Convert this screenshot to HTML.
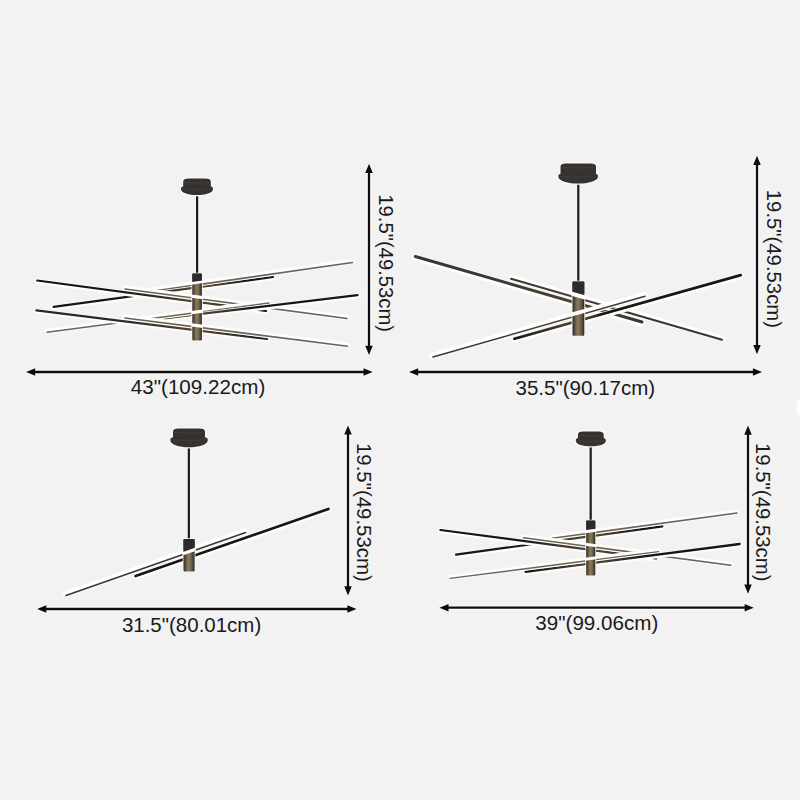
<!DOCTYPE html>
<html><head><meta charset="utf-8"><title>Chandelier dimensions</title>
<style>
html,body{margin:0;padding:0;background:#f2f2f2;}
body{width:800px;height:800px;overflow:hidden;}
svg{display:block;}
text{font-family:"Liberation Sans","DejaVu Sans",sans-serif;fill:#1a1a1a;}
</style></head>
<body>
<svg width="800" height="800" viewBox="0 0 800 800">
<defs>
<linearGradient id="brass" x1="0" y1="0" x2="1" y2="0">
<stop offset="0" stop-color="#2e2a24"/>
<stop offset="0.22" stop-color="#625742"/>
<stop offset="0.45" stop-color="#8c7c5b"/>
<stop offset="0.7" stop-color="#6e6149"/>
<stop offset="1" stop-color="#2c2823"/>
</linearGradient>
<linearGradient id="g0" gradientUnits="userSpaceOnUse" x1="37.2" y1="0" x2="266" y2="0"><stop offset="0.000" stop-color="#161616"/><stop offset="0.371" stop-color="#161616"/><stop offset="0.646" stop-color="#4a3f31"/><stop offset="0.751" stop-color="#4a3f31"/><stop offset="0.939" stop-color="#161616"/><stop offset="1.000" stop-color="#161616"/></linearGradient>
<linearGradient id="g1" gradientUnits="userSpaceOnUse" x1="53.6" y1="0" x2="273" y2="0"><stop offset="0.000" stop-color="#161616"/><stop offset="0.312" stop-color="#161616"/><stop offset="0.599" stop-color="#4a3f31"/><stop offset="0.709" stop-color="#4a3f31"/><stop offset="0.905" stop-color="#161616"/><stop offset="1.000" stop-color="#161616"/></linearGradient>
<linearGradient id="g2" gradientUnits="userSpaceOnUse" x1="36.3" y1="0" x2="267" y2="0"><stop offset="0.000" stop-color="#2a2826"/><stop offset="0.372" stop-color="#2a2826"/><stop offset="0.645" stop-color="#4a3f31"/><stop offset="0.749" stop-color="#4a3f31"/><stop offset="0.935" stop-color="#2a2826"/><stop offset="1.000" stop-color="#2a2826"/></linearGradient>
<linearGradient id="g3" gradientUnits="userSpaceOnUse" x1="125" y1="0" x2="347" y2="0"><stop offset="0.000" stop-color="#68645e"/><stop offset="0.000" stop-color="#68645e"/><stop offset="0.271" stop-color="#6e6250"/><stop offset="0.379" stop-color="#6e6250"/><stop offset="0.573" stop-color="#68645e"/><stop offset="1.000" stop-color="#68645e"/></linearGradient>
<linearGradient id="g4" gradientUnits="userSpaceOnUse" x1="125" y1="0" x2="347.5" y2="0"><stop offset="0.000" stop-color="#68645e"/><stop offset="0.000" stop-color="#68645e"/><stop offset="0.270" stop-color="#6e6250"/><stop offset="0.378" stop-color="#6e6250"/><stop offset="0.571" stop-color="#68645e"/><stop offset="1.000" stop-color="#68645e"/></linearGradient>
<linearGradient id="g5" gradientUnits="userSpaceOnUse" x1="150" y1="0" x2="352.5" y2="0"><stop offset="0.000" stop-color="#68645e"/><stop offset="0.000" stop-color="#68645e"/><stop offset="0.173" stop-color="#6e6250"/><stop offset="0.292" stop-color="#6e6250"/><stop offset="0.504" stop-color="#68645e"/><stop offset="1.000" stop-color="#68645e"/></linearGradient>
<linearGradient id="g6" gradientUnits="userSpaceOnUse" x1="150" y1="0" x2="357.5" y2="0"><stop offset="0.000" stop-color="#161616"/><stop offset="0.000" stop-color="#161616"/><stop offset="0.169" stop-color="#4a3f31"/><stop offset="0.285" stop-color="#4a3f31"/><stop offset="0.492" stop-color="#161616"/><stop offset="1.000" stop-color="#161616"/></linearGradient>
<linearGradient id="g7" gradientUnits="userSpaceOnUse" x1="47.1" y1="0" x2="269" y2="0"><stop offset="0.000" stop-color="#68645e"/><stop offset="0.338" stop-color="#68645e"/><stop offset="0.622" stop-color="#6e6250"/><stop offset="0.730" stop-color="#6e6250"/><stop offset="0.924" stop-color="#68645e"/><stop offset="1.000" stop-color="#68645e"/></linearGradient>
<linearGradient id="g8" gradientUnits="userSpaceOnUse" x1="415.3" y1="0" x2="642" y2="0"><stop offset="0.000" stop-color="#3a3733"/><stop offset="0.388" stop-color="#3a3733"/><stop offset="0.666" stop-color="#4a3f31"/><stop offset="0.772" stop-color="#4a3f31"/><stop offset="0.962" stop-color="#3a3733"/><stop offset="1.000" stop-color="#3a3733"/></linearGradient>
<linearGradient id="g9" gradientUnits="userSpaceOnUse" x1="511" y1="0" x2="722" y2="0"><stop offset="0.000" stop-color="#3a3733"/><stop offset="0.000" stop-color="#3a3733"/><stop offset="0.262" stop-color="#4a3f31"/><stop offset="0.376" stop-color="#4a3f31"/><stop offset="0.580" stop-color="#3a3733"/><stop offset="1.000" stop-color="#3a3733"/></linearGradient>
<linearGradient id="g10" gradientUnits="userSpaceOnUse" x1="514.5" y1="0" x2="740.7" y2="0"><stop offset="0.000" stop-color="#161616"/><stop offset="0.000" stop-color="#161616"/><stop offset="0.229" stop-color="#4a3f31"/><stop offset="0.335" stop-color="#4a3f31"/><stop offset="0.379" stop-color="#161616"/><stop offset="1.000" stop-color="#161616"/></linearGradient>
<linearGradient id="g11" gradientUnits="userSpaceOnUse" x1="433" y1="0" x2="645" y2="0"><stop offset="0.000" stop-color="#3a3733"/><stop offset="0.332" stop-color="#3a3733"/><stop offset="0.629" stop-color="#4a3f31"/><stop offset="0.742" stop-color="#4a3f31"/><stop offset="0.945" stop-color="#3a3733"/><stop offset="1.000" stop-color="#3a3733"/></linearGradient>
<linearGradient id="g12" gradientUnits="userSpaceOnUse" x1="440.4" y1="0" x2="656" y2="0"><stop offset="0.000" stop-color="#161616"/><stop offset="0.349" stop-color="#161616"/><stop offset="0.641" stop-color="#4a3f31"/><stop offset="0.753" stop-color="#4a3f31"/><stop offset="0.952" stop-color="#161616"/><stop offset="1.000" stop-color="#161616"/></linearGradient>
<linearGradient id="g13" gradientUnits="userSpaceOnUse" x1="456" y1="0" x2="662.3" y2="0"><stop offset="0.000" stop-color="#161616"/><stop offset="0.289" stop-color="#161616"/><stop offset="0.595" stop-color="#4a3f31"/><stop offset="0.711" stop-color="#4a3f31"/><stop offset="0.920" stop-color="#161616"/><stop offset="1.000" stop-color="#161616"/></linearGradient>
<linearGradient id="g14" gradientUnits="userSpaceOnUse" x1="523.5" y1="0" x2="730.8" y2="0"><stop offset="0.000" stop-color="#68645e"/><stop offset="0.000" stop-color="#68645e"/><stop offset="0.266" stop-color="#6e6250"/><stop offset="0.382" stop-color="#6e6250"/><stop offset="0.589" stop-color="#68645e"/><stop offset="1.000" stop-color="#68645e"/></linearGradient>
<linearGradient id="g15" gradientUnits="userSpaceOnUse" x1="552.2" y1="0" x2="737" y2="0"><stop offset="0.000" stop-color="#68645e"/><stop offset="0.000" stop-color="#68645e"/><stop offset="0.143" stop-color="#6e6250"/><stop offset="0.273" stop-color="#6e6250"/><stop offset="0.506" stop-color="#68645e"/><stop offset="1.000" stop-color="#68645e"/></linearGradient>
<linearGradient id="g16" gradientUnits="userSpaceOnUse" x1="525.6" y1="0" x2="739.7" y2="0"><stop offset="0.000" stop-color="#161616"/><stop offset="0.000" stop-color="#161616"/><stop offset="0.248" stop-color="#4a3f31"/><stop offset="0.360" stop-color="#4a3f31"/><stop offset="0.561" stop-color="#161616"/><stop offset="1.000" stop-color="#161616"/></linearGradient>
<linearGradient id="g17" gradientUnits="userSpaceOnUse" x1="450" y1="0" x2="658.6" y2="0"><stop offset="0.000" stop-color="#68645e"/><stop offset="0.315" stop-color="#68645e"/><stop offset="0.617" stop-color="#6e6250"/><stop offset="0.732" stop-color="#6e6250"/><stop offset="0.938" stop-color="#68645e"/><stop offset="1.000" stop-color="#68645e"/></linearGradient>
<clipPath id="c1L"><rect x="0" y="0" width="197" height="800"/></clipPath>
<clipPath id="c1R"><rect x="197" y="0" width="603" height="800"/></clipPath>
<clipPath id="c4L"><rect x="0" y="0" width="590.7" height="800"/></clipPath>
<clipPath id="c4R"><rect x="590.7" y="0" width="209.3" height="800"/></clipPath>
</defs>
<rect width="800" height="800" fill="#f2f2f2"/>
<rect x="195.20" y="190" width="3.8000000000000003" height="84" fill="#fafafa" opacity="0.7"/><rect x="196.00" y="190" width="2.2" height="84" fill="#1c1b1a"/>
<path d="M183.2,181.7 Q183.2,178.5 188.32,178.5 L205.68,178.5 Q210.8,178.5 210.8,181.7 L210.8,186.3 C212.6,186.9 213,187.5 213,188.9 C213,197.03 181,197.03 181,188.9 C181,187.5 181.4,186.9 183.2,186.3 Z" fill="none" stroke="#fbfbfb" stroke-width="2.6"/><path d="M183.2,181.7 Q183.2,178.5 188.32,178.5 L205.68,178.5 Q210.8,178.5 210.8,181.7 L210.8,186.3 C212.6,186.9 213,187.5 213,188.9 C213,197.03 181,197.03 181,188.9 C181,187.5 181.4,186.9 183.2,186.3 Z" fill="#353230"/><path d="M184.0,182.29999999999998 Q197.0,183.89999999999998 210.0,182.29999999999998" fill="none" stroke="#4a4643" stroke-width="0.8" opacity="0.7"/><path d="M182,188.7 Q197.0,190.9 212,188.7" fill="none" stroke="#4a4643" stroke-width="0.8" opacity="0.6"/>
<g clip-path="url(#c1L)"><line x1="149.86" y1="290.53" x2="352.36" y2="261.53" stroke="#fafafa" stroke-width="5.9" stroke-linecap="round"/><line x1="149.72" y1="289.57" x2="352.22" y2="260.57" stroke="#fffefa" stroke-width="2.6" stroke-linecap="round"/><line x1="150.00" y1="291.50" x2="352.50" y2="262.50" stroke="url(#g5)" stroke-width="1.7" stroke-linecap="round"/><line x1="150.10" y1="320.87" x2="357.60" y2="296.07" stroke="#fafafa" stroke-width="5.5" stroke-linecap="round"/><line x1="150.21" y1="321.74" x2="357.71" y2="296.94" stroke="#fffefa" stroke-width="1.6" stroke-linecap="round"/><line x1="150.00" y1="320.00" x2="357.50" y2="295.20" stroke="url(#g6)" stroke-width="2.3" stroke-linecap="round"/><line x1="53.71" y1="307.64" x2="273.11" y2="277.84" stroke="#fafafa" stroke-width="5.4" stroke-linecap="round"/><line x1="53.83" y1="308.48" x2="273.23" y2="278.68" stroke="#fffefa" stroke-width="1.6" stroke-linecap="round"/><line x1="53.60" y1="306.80" x2="273.00" y2="277.00" stroke="url(#g1)" stroke-width="2.2" stroke-linecap="round"/><line x1="46.98" y1="331.38" x2="268.88" y2="302.08" stroke="#fafafa" stroke-width="5.699999999999999" stroke-linecap="round"/><line x1="46.86" y1="330.47" x2="268.76" y2="301.17" stroke="#fffefa" stroke-width="2.6" stroke-linecap="round"/><line x1="47.10" y1="332.30" x2="269.00" y2="303.00" stroke="url(#g7)" stroke-width="1.5" stroke-linecap="round"/><line x1="125.12" y1="288.11" x2="347.12" y2="317.61" stroke="#fafafa" stroke-width="5.6" stroke-linecap="round"/><line x1="125.24" y1="287.22" x2="347.24" y2="316.72" stroke="#fffefa" stroke-width="2.4" stroke-linecap="round"/><line x1="125.00" y1="289.00" x2="347.00" y2="318.50" stroke="url(#g3)" stroke-width="1.6" stroke-linecap="round"/><line x1="125.11" y1="317.11" x2="347.61" y2="345.36" stroke="#fafafa" stroke-width="5.6" stroke-linecap="round"/><line x1="125.23" y1="316.21" x2="347.73" y2="344.46" stroke="#fffefa" stroke-width="2.4" stroke-linecap="round"/><line x1="125.00" y1="318.00" x2="347.50" y2="346.25" stroke="url(#g4)" stroke-width="1.6" stroke-linecap="round"/><line x1="37.09" y1="281.34" x2="265.89" y2="311.84" stroke="#fafafa" stroke-width="5.4" stroke-linecap="round"/><line x1="36.98" y1="282.19" x2="265.78" y2="312.69" stroke="#fffefa" stroke-width="1.6" stroke-linecap="round"/><line x1="37.20" y1="280.50" x2="266.00" y2="311.00" stroke="url(#g0)" stroke-width="2.2" stroke-linecap="round"/><line x1="36.20" y1="311.22" x2="266.90" y2="339.82" stroke="#fafafa" stroke-width="5.300000000000001" stroke-linecap="round"/><line x1="36.10" y1="312.04" x2="266.80" y2="340.64" stroke="#fffefa" stroke-width="1.6" stroke-linecap="round"/><line x1="36.30" y1="310.40" x2="267.00" y2="339.00" stroke="url(#g2)" stroke-width="2.1" stroke-linecap="round"/></g>
<g clip-path="url(#c1R)"><line x1="37.09" y1="281.34" x2="265.89" y2="311.84" stroke="#fafafa" stroke-width="5.4" stroke-linecap="round"/><line x1="36.98" y1="282.19" x2="265.78" y2="312.69" stroke="#fffefa" stroke-width="1.6" stroke-linecap="round"/><line x1="37.20" y1="280.50" x2="266.00" y2="311.00" stroke="url(#g0)" stroke-width="2.2" stroke-linecap="round"/><line x1="36.20" y1="311.22" x2="266.90" y2="339.82" stroke="#fafafa" stroke-width="5.300000000000001" stroke-linecap="round"/><line x1="36.10" y1="312.04" x2="266.80" y2="340.64" stroke="#fffefa" stroke-width="1.6" stroke-linecap="round"/><line x1="36.30" y1="310.40" x2="267.00" y2="339.00" stroke="url(#g2)" stroke-width="2.1" stroke-linecap="round"/><line x1="125.12" y1="288.11" x2="347.12" y2="317.61" stroke="#fafafa" stroke-width="5.6" stroke-linecap="round"/><line x1="125.24" y1="287.22" x2="347.24" y2="316.72" stroke="#fffefa" stroke-width="2.4" stroke-linecap="round"/><line x1="125.00" y1="289.00" x2="347.00" y2="318.50" stroke="url(#g3)" stroke-width="1.6" stroke-linecap="round"/><line x1="125.11" y1="317.11" x2="347.61" y2="345.36" stroke="#fafafa" stroke-width="5.6" stroke-linecap="round"/><line x1="125.23" y1="316.21" x2="347.73" y2="344.46" stroke="#fffefa" stroke-width="2.4" stroke-linecap="round"/><line x1="125.00" y1="318.00" x2="347.50" y2="346.25" stroke="url(#g4)" stroke-width="1.6" stroke-linecap="round"/><line x1="53.71" y1="307.64" x2="273.11" y2="277.84" stroke="#fafafa" stroke-width="5.4" stroke-linecap="round"/><line x1="53.83" y1="308.48" x2="273.23" y2="278.68" stroke="#fffefa" stroke-width="1.6" stroke-linecap="round"/><line x1="53.60" y1="306.80" x2="273.00" y2="277.00" stroke="url(#g1)" stroke-width="2.2" stroke-linecap="round"/><line x1="149.86" y1="290.53" x2="352.36" y2="261.53" stroke="#fafafa" stroke-width="5.9" stroke-linecap="round"/><line x1="149.72" y1="289.57" x2="352.22" y2="260.57" stroke="#fffefa" stroke-width="2.6" stroke-linecap="round"/><line x1="150.00" y1="291.50" x2="352.50" y2="262.50" stroke="url(#g5)" stroke-width="1.7" stroke-linecap="round"/><line x1="46.98" y1="331.38" x2="268.88" y2="302.08" stroke="#fafafa" stroke-width="5.699999999999999" stroke-linecap="round"/><line x1="46.86" y1="330.47" x2="268.76" y2="301.17" stroke="#fffefa" stroke-width="2.6" stroke-linecap="round"/><line x1="47.10" y1="332.30" x2="269.00" y2="303.00" stroke="url(#g7)" stroke-width="1.5" stroke-linecap="round"/><line x1="150.10" y1="320.87" x2="357.60" y2="296.07" stroke="#fafafa" stroke-width="5.5" stroke-linecap="round"/><line x1="150.21" y1="321.74" x2="357.71" y2="296.94" stroke="#fffefa" stroke-width="1.6" stroke-linecap="round"/><line x1="150.00" y1="320.00" x2="357.50" y2="295.20" stroke="url(#g6)" stroke-width="2.3" stroke-linecap="round"/></g>
<rect x="191.50" y="272.7" width="11.20" height="68.70" fill="#fafafa" rx="1.5"/><rect x="192.3" y="273.5" width="9.60" height="67.10" fill="url(#brass)" rx="1"/>
<rect x="192.3" y="273.5" width="9.60" height="7.70" fill="#2c2b29" rx="1"/>
<path d="M191.30,282.23 L202.90,280.57 L202.90,282.97 L191.30,284.63 Z" fill="#ffffff"/>
<path d="M191.30,294.43 L202.90,295.97 L202.90,299.17 L191.30,297.63 Z" fill="#ffffff"/>
<path d="M191.30,310.95 L202.90,309.45 L202.90,312.65 L191.30,314.15 Z" fill="#ffffff"/>
<path d="M191.30,323.36 L202.90,324.84 L202.90,328.04 L191.30,326.56 Z" fill="#ffffff"/>
<line x1="28" y1="372" x2="370.7" y2="372" stroke="#fdfdfd" stroke-width="4.5"/><path d="M24.8,372 L36.0,367.2 L36.0,376.8 Z" fill="#fdfdfd"/><path d="M373.9,372 L362.7,367.2 L362.7,376.8 Z" fill="#fdfdfd"/><line x1="34.2" y1="372" x2="364.5" y2="372" stroke="#0d0d0d" stroke-width="2.3"/><path d="M26,372 L35.2,368.2 L35.2,375.8 Z" fill="#0d0d0d"/><path d="M372.7,372 L363.5,368.2 L363.5,375.8 Z" fill="#0d0d0d"/>
<line x1="369" y1="165.75" x2="369" y2="352.9" stroke="#fdfdfd" stroke-width="4.5"/><path d="M369,162.55 L364.2,173.75 L373.8,173.75 Z" fill="#fdfdfd"/><path d="M369,356.09999999999997 L364.2,344.9 L373.8,344.9 Z" fill="#fdfdfd"/><line x1="369" y1="171.95" x2="369" y2="346.7" stroke="#0d0d0d" stroke-width="2.3"/><path d="M369,163.75 L365.2,172.95 L372.8,172.95 Z" fill="#0d0d0d"/><path d="M369,354.9 L365.2,345.7 L372.8,345.7 Z" fill="#0d0d0d"/>
<text x="130.80" y="394.40" font-size="20" textLength="134.50" lengthAdjust="spacingAndGlyphs">43"(109.22cm)</text>
<text transform="translate(378.50,194.30) rotate(90)" font-size="20" textLength="137.70" lengthAdjust="spacingAndGlyphs">19.5"(49.53cm)</text>
<rect x="576.40" y="180" width="3.8000000000000003" height="102" fill="#fafafa" opacity="0.7"/><rect x="577.20" y="180" width="2.2" height="102" fill="#1c1b1a"/>
<path d="M560.5,166.7 Q560.5,163.5 565.62,163.5 L590.88,163.5 Q596,163.5 596,166.7 L596,173.8 C597.6,174.4 598,175 598,176.4 C598,185.87 558.3,185.87 558.3,176.4 C558.3,175 558.6999999999999,174.4 560.5,173.8 Z" fill="none" stroke="#fbfbfb" stroke-width="2.6"/><path d="M560.5,166.7 Q560.5,163.5 565.62,163.5 L590.88,163.5 Q596,163.5 596,166.7 L596,173.8 C597.6,174.4 598,175 598,176.4 C598,185.87 558.3,185.87 558.3,176.4 C558.3,175 558.6999999999999,174.4 560.5,173.8 Z" fill="#353230"/><path d="M561.3,167.29999999999998 Q578.15,168.89999999999998 595.2,167.29999999999998" fill="none" stroke="#4a4643" stroke-width="0.8" opacity="0.7"/><path d="M559.3,176.2 Q578.15,178.4 597,176.2" fill="none" stroke="#4a4643" stroke-width="0.8" opacity="0.6"/>
<line x1="414.96" y1="257.68" x2="641.66" y2="323.18" stroke="#fafafa" stroke-width="6.9" stroke-linecap="round"/><line x1="414.62" y1="258.85" x2="641.32" y2="324.35" stroke="#fffefa" stroke-width="2.4" stroke-linecap="round"/><line x1="415.30" y1="256.50" x2="642.00" y2="322.00" stroke="url(#g8)" stroke-width="2.9" stroke-linecap="round"/>
<line x1="511.31" y1="277.69" x2="722.31" y2="338.74" stroke="#fafafa" stroke-width="6.4" stroke-linecap="round"/><line x1="511.61" y1="276.64" x2="722.61" y2="337.69" stroke="#fffefa" stroke-width="2.8" stroke-linecap="round"/><line x1="511.00" y1="278.75" x2="722.00" y2="339.80" stroke="url(#g9)" stroke-width="2.0" stroke-linecap="round"/>
<line x1="514.78" y1="339.76" x2="740.98" y2="276.21" stroke="#fafafa" stroke-width="6.199999999999999" stroke-linecap="round"/><line x1="515.07" y1="340.77" x2="741.27" y2="277.22" stroke="#fffefa" stroke-width="1.8" stroke-linecap="round"/><line x1="514.50" y1="338.75" x2="740.70" y2="275.20" stroke="url(#g10)" stroke-width="2.8" stroke-linecap="round"/>
<line x1="432.68" y1="355.87" x2="644.68" y2="295.07" stroke="#fafafa" stroke-width="6.699999999999999" stroke-linecap="round"/><line x1="432.35" y1="354.74" x2="644.35" y2="293.94" stroke="#fffefa" stroke-width="3.6" stroke-linecap="round"/><line x1="433.00" y1="357.00" x2="645.00" y2="296.20" stroke="url(#g11)" stroke-width="1.5" stroke-linecap="round"/>
<rect x="571.70" y="280.7" width="13.40" height="55.85" fill="#fafafa" rx="1.5"/><rect x="572.5" y="281.5" width="11.80" height="54.25" fill="url(#brass)" rx="1"/>
<rect x="572.5" y="281.5" width="11.80" height="12.50" fill="#2c2b29" rx="1"/>
<path d="M571.50,291.52 L585.30,295.48 L585.30,299.68 L571.50,295.72 Z" fill="#ffffff"/>
<path d="M571.50,312.57 L585.30,308.63 L585.30,312.63 L571.50,316.57 Z" fill="#ffffff"/>
<line x1="411" y1="372" x2="760.1" y2="372" stroke="#fdfdfd" stroke-width="4.5"/><path d="M407.8,372 L419.0,367.2 L419.0,376.8 Z" fill="#fdfdfd"/><path d="M763.3000000000001,372 L752.1,367.2 L752.1,376.8 Z" fill="#fdfdfd"/><line x1="417.2" y1="372" x2="753.9" y2="372" stroke="#0d0d0d" stroke-width="2.3"/><path d="M409,372 L418.2,368.2 L418.2,375.8 Z" fill="#0d0d0d"/><path d="M762.1,372 L752.9,368.2 L752.9,375.8 Z" fill="#0d0d0d"/>
<line x1="757" y1="157.8" x2="757" y2="352.2" stroke="#fdfdfd" stroke-width="4.5"/><path d="M757,154.60000000000002 L752.2,165.8 L761.8,165.8 Z" fill="#fdfdfd"/><path d="M757,355.4 L752.2,344.2 L761.8,344.2 Z" fill="#fdfdfd"/><line x1="757" y1="164.0" x2="757" y2="346.0" stroke="#0d0d0d" stroke-width="2.3"/><path d="M757,155.8 L753.2,165.0 L760.8,165.0 Z" fill="#0d0d0d"/><path d="M757,354.2 L753.2,345.0 L760.8,345.0 Z" fill="#0d0d0d"/>
<text x="515.50" y="395.30" font-size="20" textLength="139.70" lengthAdjust="spacingAndGlyphs">35.5"(90.17cm)</text>
<text transform="translate(766.50,189.80) rotate(90)" font-size="20" textLength="138.20" lengthAdjust="spacingAndGlyphs">19.5"(49.53cm)</text>
<rect x="186.95" y="442" width="3.8000000000000003" height="98" fill="#fafafa" opacity="0.7"/><rect x="187.75" y="442" width="2.2" height="98" fill="#1c1b1a"/>
<path d="M173,431.7 Q173,428.5 178.12,428.5 L199.88,428.5 Q205,428.5 205,431.7 L205,437.3 C207.4,437.9 207.8,438.5 207.8,439.9 C207.8,449.63 170.3,449.63 170.3,439.9 C170.3,438.5 170.70000000000002,437.9 173,437.3 Z" fill="none" stroke="#fbfbfb" stroke-width="2.6"/><path d="M173,431.7 Q173,428.5 178.12,428.5 L199.88,428.5 Q205,428.5 205,431.7 L205,437.3 C207.4,437.9 207.8,438.5 207.8,439.9 C207.8,449.63 170.3,449.63 170.3,439.9 C170.3,438.5 170.70000000000002,437.9 173,437.3 Z" fill="#353230"/><path d="M173.8,432.3 Q189.05,433.9 204.2,432.3" fill="none" stroke="#4a4643" stroke-width="0.8" opacity="0.7"/><path d="M171.3,439.7 Q189.05,441.9 206.8,439.7" fill="none" stroke="#4a4643" stroke-width="0.8" opacity="0.6"/>
<line x1="65.61" y1="594.39" x2="245.21" y2="531.39" stroke="#fafafa" stroke-width="6.699999999999999" stroke-linecap="round"/><line x1="65.22" y1="593.28" x2="244.82" y2="530.28" stroke="#fffefa" stroke-width="3.6" stroke-linecap="round"/><line x1="66.00" y1="595.50" x2="245.60" y2="532.50" stroke="#3a3733" stroke-width="1.5" stroke-linecap="round"/>
<line x1="135.94" y1="576.97" x2="328.74" y2="509.97" stroke="#fafafa" stroke-width="6.1" stroke-linecap="round"/><line x1="136.27" y1="577.94" x2="329.07" y2="510.94" stroke="#fffefa" stroke-width="1.8" stroke-linecap="round"/><line x1="135.60" y1="576.00" x2="328.40" y2="509.00" stroke="#161616" stroke-width="2.7" stroke-linecap="round"/>
<rect x="182.70" y="538.2" width="12.70" height="34.10" fill="#fafafa" rx="1.5"/><rect x="183.5" y="539" width="11.10" height="32.50" fill="url(#brass)" rx="1"/>
<rect x="183.5" y="539" width="11.10" height="12.00" fill="#2c2b29" rx="1"/>
<path d="M182.50,552.20 L195.60,547.60 L195.60,551.00 L182.50,555.60 Z" fill="#ffffff"/>
<line x1="39.1" y1="609" x2="354.6" y2="609" stroke="#fdfdfd" stroke-width="4.5"/><path d="M35.9,609 L47.099999999999994,604.2 L47.099999999999994,613.8 Z" fill="#fdfdfd"/><path d="M357.8,609 L346.6,604.2 L346.6,613.8 Z" fill="#fdfdfd"/><line x1="45.3" y1="609" x2="348.40000000000003" y2="609" stroke="#0d0d0d" stroke-width="2.3"/><path d="M37.1,609 L46.3,605.2 L46.3,612.8 Z" fill="#0d0d0d"/><path d="M356.6,609 L347.40000000000003,605.2 L347.40000000000003,612.8 Z" fill="#0d0d0d"/>
<line x1="348" y1="427.4" x2="348" y2="593.5" stroke="#fdfdfd" stroke-width="4.5"/><path d="M348,424.2 L343.2,435.4 L352.8,435.4 Z" fill="#fdfdfd"/><path d="M348,596.7 L343.2,585.5 L352.8,585.5 Z" fill="#fdfdfd"/><line x1="348" y1="433.59999999999997" x2="348" y2="587.3" stroke="#0d0d0d" stroke-width="2.3"/><path d="M348,425.4 L344.2,434.59999999999997 L351.8,434.59999999999997 Z" fill="#0d0d0d"/><path d="M348,595.5 L344.2,586.3 L351.8,586.3 Z" fill="#0d0d0d"/>
<text x="121.90" y="631.90" font-size="20" textLength="139.35" lengthAdjust="spacingAndGlyphs">31.5"(80.01cm)</text>
<text transform="translate(356.75,443.00) rotate(90)" font-size="20" textLength="138.75" lengthAdjust="spacingAndGlyphs">19.5"(49.53cm)</text>
<rect x="588.80" y="442" width="3.8000000000000003" height="79" fill="#fafafa" opacity="0.7"/><rect x="589.60" y="442" width="2.2" height="79" fill="#1c1b1a"/>
<path d="M577.9,434.59999999999997 Q577.9,431.4 583.02,431.4 L598.58,431.4 Q603.7,431.4 603.7,434.59999999999997 L603.7,438.05 C605.5,438.65 605.9,439.25 605.9,440.65 C605.9,448.12 575.75,448.12 575.75,440.65 C575.75,439.25 576.15,438.65 577.9,438.05 Z" fill="none" stroke="#fbfbfb" stroke-width="2.6"/><path d="M577.9,434.59999999999997 Q577.9,431.4 583.02,431.4 L598.58,431.4 Q603.7,431.4 603.7,434.59999999999997 L603.7,438.05 C605.5,438.65 605.9,439.25 605.9,440.65 C605.9,448.12 575.75,448.12 575.75,440.65 C575.75,439.25 576.15,438.65 577.9,438.05 Z" fill="#353230"/><path d="M578.6999999999999,435.2 Q590.825,436.79999999999995 602.9000000000001,435.2" fill="none" stroke="#4a4643" stroke-width="0.8" opacity="0.7"/><path d="M576.75,440.45 Q590.825,442.65 604.9,440.45" fill="none" stroke="#4a4643" stroke-width="0.8" opacity="0.6"/>
<g clip-path="url(#c4L)"><line x1="552.07" y1="537.36" x2="736.87" y2="512.06" stroke="#fafafa" stroke-width="5.800000000000001" stroke-linecap="round"/><line x1="551.94" y1="536.42" x2="736.74" y2="511.12" stroke="#fffefa" stroke-width="2.6" stroke-linecap="round"/><line x1="552.20" y1="538.30" x2="737.00" y2="513.00" stroke="url(#g15)" stroke-width="1.6" stroke-linecap="round"/><line x1="525.71" y1="572.67" x2="739.81" y2="544.87" stroke="#fafafa" stroke-width="5.5" stroke-linecap="round"/><line x1="525.83" y1="573.54" x2="739.93" y2="545.74" stroke="#fffefa" stroke-width="1.6" stroke-linecap="round"/><line x1="525.60" y1="571.80" x2="739.70" y2="544.00" stroke="url(#g16)" stroke-width="2.3" stroke-linecap="round"/><line x1="456.12" y1="555.44" x2="662.42" y2="527.24" stroke="#fafafa" stroke-width="5.4" stroke-linecap="round"/><line x1="456.23" y1="556.28" x2="662.53" y2="528.08" stroke="#fffefa" stroke-width="1.6" stroke-linecap="round"/><line x1="456.00" y1="554.60" x2="662.30" y2="526.40" stroke="url(#g13)" stroke-width="2.2" stroke-linecap="round"/><line x1="449.89" y1="577.56" x2="658.49" y2="550.76" stroke="#fafafa" stroke-width="5.4" stroke-linecap="round"/><line x1="449.78" y1="576.71" x2="658.38" y2="549.91" stroke="#fffefa" stroke-width="2.4" stroke-linecap="round"/><line x1="450.00" y1="578.40" x2="658.60" y2="551.60" stroke="url(#g17)" stroke-width="1.4" stroke-linecap="round"/><line x1="523.62" y1="536.93" x2="730.92" y2="564.43" stroke="#fafafa" stroke-width="5.5" stroke-linecap="round"/><line x1="523.73" y1="536.07" x2="731.03" y2="563.57" stroke="#fffefa" stroke-width="2.4" stroke-linecap="round"/><line x1="523.50" y1="537.80" x2="730.80" y2="565.30" stroke="url(#g14)" stroke-width="1.5" stroke-linecap="round"/><line x1="440.29" y1="530.84" x2="655.89" y2="559.34" stroke="#fafafa" stroke-width="5.4" stroke-linecap="round"/><line x1="440.18" y1="531.69" x2="655.78" y2="560.19" stroke="#fffefa" stroke-width="1.6" stroke-linecap="round"/><line x1="440.40" y1="530.00" x2="656.00" y2="558.50" stroke="url(#g12)" stroke-width="2.2" stroke-linecap="round"/></g>
<g clip-path="url(#c4R)"><line x1="440.29" y1="530.84" x2="655.89" y2="559.34" stroke="#fafafa" stroke-width="5.4" stroke-linecap="round"/><line x1="440.18" y1="531.69" x2="655.78" y2="560.19" stroke="#fffefa" stroke-width="1.6" stroke-linecap="round"/><line x1="440.40" y1="530.00" x2="656.00" y2="558.50" stroke="url(#g12)" stroke-width="2.2" stroke-linecap="round"/><line x1="523.62" y1="536.93" x2="730.92" y2="564.43" stroke="#fafafa" stroke-width="5.5" stroke-linecap="round"/><line x1="523.73" y1="536.07" x2="731.03" y2="563.57" stroke="#fffefa" stroke-width="2.4" stroke-linecap="round"/><line x1="523.50" y1="537.80" x2="730.80" y2="565.30" stroke="url(#g14)" stroke-width="1.5" stroke-linecap="round"/><line x1="456.12" y1="555.44" x2="662.42" y2="527.24" stroke="#fafafa" stroke-width="5.4" stroke-linecap="round"/><line x1="456.23" y1="556.28" x2="662.53" y2="528.08" stroke="#fffefa" stroke-width="1.6" stroke-linecap="round"/><line x1="456.00" y1="554.60" x2="662.30" y2="526.40" stroke="url(#g13)" stroke-width="2.2" stroke-linecap="round"/><line x1="552.07" y1="537.36" x2="736.87" y2="512.06" stroke="#fafafa" stroke-width="5.800000000000001" stroke-linecap="round"/><line x1="551.94" y1="536.42" x2="736.74" y2="511.12" stroke="#fffefa" stroke-width="2.6" stroke-linecap="round"/><line x1="552.20" y1="538.30" x2="737.00" y2="513.00" stroke="url(#g15)" stroke-width="1.6" stroke-linecap="round"/><line x1="449.89" y1="577.56" x2="658.49" y2="550.76" stroke="#fafafa" stroke-width="5.4" stroke-linecap="round"/><line x1="449.78" y1="576.71" x2="658.38" y2="549.91" stroke="#fffefa" stroke-width="2.4" stroke-linecap="round"/><line x1="450.00" y1="578.40" x2="658.60" y2="551.60" stroke="url(#g17)" stroke-width="1.4" stroke-linecap="round"/><line x1="525.71" y1="572.67" x2="739.81" y2="544.87" stroke="#fafafa" stroke-width="5.5" stroke-linecap="round"/><line x1="525.83" y1="573.54" x2="739.93" y2="545.74" stroke="#fffefa" stroke-width="1.6" stroke-linecap="round"/><line x1="525.60" y1="571.80" x2="739.70" y2="544.00" stroke="url(#g16)" stroke-width="2.3" stroke-linecap="round"/></g>
<rect x="585.40" y="519.7" width="10.70" height="56.60" fill="#fafafa" rx="1.5"/><rect x="586.2" y="520.5" width="9.10" height="55.00" fill="url(#brass)" rx="1"/>
<rect x="586.2" y="520.5" width="9.10" height="9.00" fill="#2c2b29" rx="1"/>
<path d="M585.20,530.36 L596.30,528.84 L596.30,531.64 L585.20,533.16 Z" fill="#ffffff"/>
<path d="M585.20,542.66 L596.30,544.14 L596.30,547.34 L585.20,545.86 Z" fill="#ffffff"/>
<path d="M585.20,557.71 L596.30,556.29 L596.30,559.29 L585.20,560.71 Z" fill="#ffffff"/>
<line x1="441.35" y1="607.7" x2="751.8" y2="607.7" stroke="#fdfdfd" stroke-width="4.5"/><path d="M438.15000000000003,607.7 L449.35,602.9000000000001 L449.35,612.5 Z" fill="#fdfdfd"/><path d="M755.0,607.7 L743.8,602.9000000000001 L743.8,612.5 Z" fill="#fdfdfd"/><line x1="447.55" y1="607.7" x2="745.5999999999999" y2="607.7" stroke="#0d0d0d" stroke-width="2.3"/><path d="M439.35,607.7 L448.55,603.9000000000001 L448.55,611.5 Z" fill="#0d0d0d"/><path d="M753.8,607.7 L744.5999999999999,603.9000000000001 L744.5999999999999,611.5 Z" fill="#0d0d0d"/>
<line x1="748" y1="427.5" x2="748" y2="591.8" stroke="#fdfdfd" stroke-width="4.5"/><path d="M748,424.3 L743.2,435.5 L752.8,435.5 Z" fill="#fdfdfd"/><path d="M748,595.0 L743.2,583.8 L752.8,583.8 Z" fill="#fdfdfd"/><line x1="748" y1="433.7" x2="748" y2="585.5999999999999" stroke="#0d0d0d" stroke-width="2.3"/><path d="M748,425.5 L744.2,434.7 L751.8,434.7 Z" fill="#0d0d0d"/><path d="M748,593.8 L744.2,584.5999999999999 L751.8,584.5999999999999 Z" fill="#0d0d0d"/>
<text x="535.30" y="630.10" font-size="20" textLength="123.00" lengthAdjust="spacingAndGlyphs">39"(99.06cm)</text>
<text transform="translate(756.25,443.00) rotate(90)" font-size="20" textLength="138.50" lengthAdjust="spacingAndGlyphs">19.5"(49.53cm)</text>
<rect x="796.6" y="399.6" width="3.4" height="15.4" rx="1.2" fill="#fdfdfd"/>
</svg>
</body></html>
